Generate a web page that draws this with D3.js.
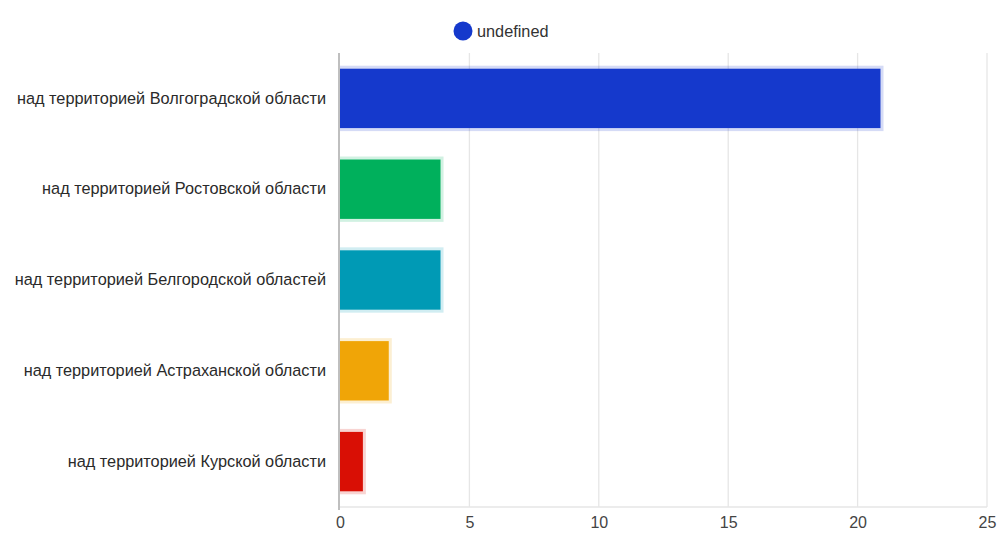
<!DOCTYPE html>
<html>
<head>
<meta charset="utf-8">
<script src="https://cdn.jsdelivr.net/npm/d3@7"></script>
<style>
  body { margin: 0; background: #fff; }
  text { font-family: "Liberation Sans", Arial, sans-serif; }
</style>
</head>
<body>
<script>
// DATA
const regions = [
  "над территорией Волгоградской области",
  "над территорией Ростовской области",
  "над территорией Белгородской областей",
  "над территорией Астраханской области",
  "над территорией Курской области"
];
const counts = [21, 4, 4, 2, 1];
const barColors = ["#1539cc", "#00b05c", "#009ab5", "#f0a507", "#d90f05"];
const xTicks = [0, 5, 10, 15, 20, 25];
const legendLabel = "undefined";

// CHART
const W = 1003, H = 545;
const m = { top: 53, right: 16, bottom: 38, left: 340 };
const inset = 3;

const svg = d3.select("body").append("svg")
  .attr("width", W)
  .attr("height", H);

const x = d3.scaleLinear().domain([0, 25]).range([m.left, W - m.right]);
const y = d3.scaleBand().domain(regions).range([m.top, H - m.bottom]).paddingInner(0.28).paddingOuter(0.14);

// grid
svg.append("g")
  .selectAll("line")
  .data(xTicks.slice(1))
  .enter()
  .append("line")
  .attr("x1", d => x(d)).attr("x2", d => x(d))
  .attr("y1", m.top).attr("y2", H - m.bottom)
  .attr("stroke", "#e6e6e6")
  .attr("stroke-width", 1.3);

svg.append("line")
  .attr("x1", m.left).attr("x2", W - m.right)
  .attr("y1", H - m.bottom).attr("y2", H - m.bottom)
  .attr("stroke", "#e6e6e6")
  .attr("stroke-width", 1.3);

const rows = regions.map((r, i) => ({ region: r, value: counts[i], color: barColors[i] }));

// light border (drawn inside the value, like the original)
svg.append("g")
  .selectAll("rect")
  .data(rows)
  .enter()
  .append("rect")
  .attr("x", x(0))
  .attr("y", d => y(d.region))
  .attr("width", d => x(d.value) - x(0))
  .attr("height", y.bandwidth())
  .attr("fill", d => d.color)
  .attr("fill-opacity", 0.18);

svg.append("g")
  .selectAll("rect")
  .data(rows)
  .enter()
  .append("rect")
  .attr("x", x(0))
  .attr("y", d => y(d.region) + inset)
  .attr("width", d => x(d.value) - x(0) - inset)
  .attr("height", y.bandwidth() - 2 * inset)
  .attr("fill", d => d.color);

// y axis line
svg.append("line")
  .attr("x1", m.left - 1).attr("x2", m.left - 1)
  .attr("y1", m.top).attr("y2", H - m.bottom + 3)
  .attr("stroke", "#aaa")
  .attr("stroke-width", 1.5);

// axes
const xAxis = d3.axisBottom(x).tickValues(xTicks).tickSize(0).tickPadding(10);
const gx = svg.append("g")
  .attr("transform", `translate(0,${H - m.bottom})`)
  .call(xAxis);
gx.select(".domain").remove();
gx.selectAll("text")
  .style("font-size", "16px")
  .attr("fill", "#444");

const yAxis = d3.axisLeft(y).tickSize(0).tickPadding(14);
const gy = svg.append("g")
  .attr("transform", `translate(${m.left},0)`)
  .call(yAxis);
gy.select(".domain").remove();
gy.selectAll("text")
  .style("font-size", "16.3px")
  .attr("fill", "#2a2a2a");

// legend
const lg = svg.append("g").attr("transform", "translate(463,31)");
lg.append("circle").attr("r", 9.5).attr("fill", barColors[0]);
lg.append("text")
  .attr("x", 14)
  .attr("dy", "0.35em")
  .style("font-size", "16.3px")
  .attr("fill", "#333")
  .text(legendLabel);
</script>
</body>
</html>
